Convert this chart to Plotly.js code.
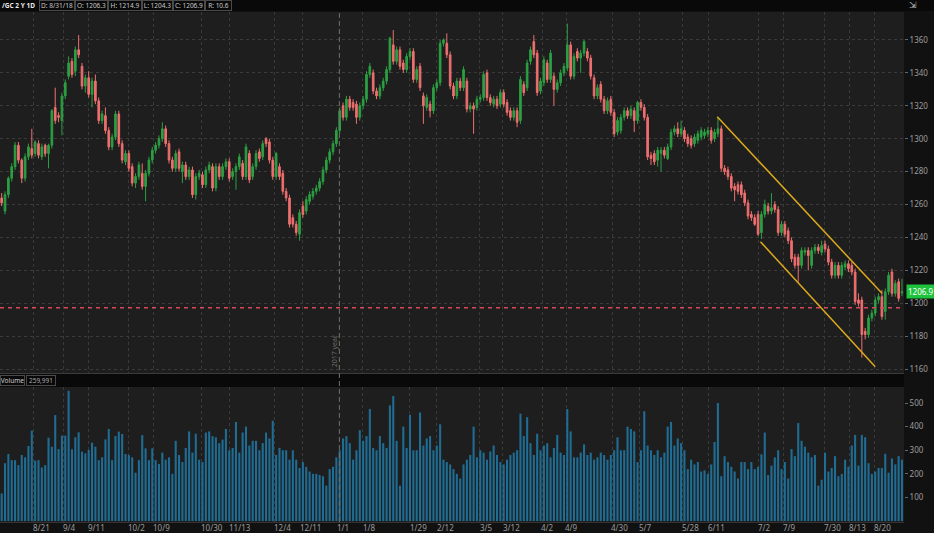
<!DOCTYPE html>
<html>
<head>
<meta charset="utf-8">
<script src="https://cdn.plot.ly/plotly-3.0.1.min.js"></script>
<style>html,body{margin:0;padding:0;background:#111111;}#chart{width:934px;height:533px;}</style>
</head>
<body>
<div id="chart"></div>
<script>
// ---- Daily OHLC (/GC, bar index 0..269) ----
const open = [1264,1256,1266,1276,1283,1296,1287,1276,1289,1294,1291,1297,1289,1296,1291,1296,1319,1314,1311,1326,
1338,1347,1341,1354,1344,1332,1337,1327,1335,1323,1311,1314,1305,1295,1301,1315,1297,1286,1291,1283,
1273,1277,1279,1271,1279,1287,1293,1296,1300,1306,1297,1287,1282,1292,1280,1284,1277,1281,1266,1277,
1278,1272,1281,1283,1270,1283,1277,1283,1286,1277,1280,1283,1285,1277,1291,1277,1283,1292,1289,1300,
1298,1287,1277,1283,1279,1268,1264,1252,1248,1242,1259,1256,1262,1265,1268,1270,1274,1281,1287,1292,
1297,1305,1320,1313,1324,1322,1321,1313,1320,1324,1339,1340,1329,1326,1331,1335,1342,1357,1347,1354,
1346,1342,1350,1353,1336,1344,1326,1319,1321,1317,1331,1334,1358,1358,1351,1332,1326,1335,1331,1335,
1318,1320,1319,1324,1325,1340,1325,1321,1324,1321,1328,1322,1317,1313,1317,1311,1333,1331,1347,1359,
1352,1329,1334,1346,1336,1338,1330,1334,1340,1343,1357,1338,1353,1349,1352,1353,1349,1337,1326,1333,
1324,1317,1324,1316,1304,1305,1313,1317,1314,1317,1311,1322,1319,1313,1290,1291,1287,1291,1293,1288,
1295,1304,1306,1303,1305,1301,1300,1297,1299,1301,1302,1303,1305,1300,1303,1306,1282,1281,1277,1271,
1272,1272,1267,1261,1254,1252,1254,1243,1254,1259,1256,1260,1257,1243,1248,1244,1238,1228,1228,1223,
1231,1232,1223,1232,1234,1231,1236,1233,1225,1217,1223,1217,1222,1224,1223,1219,1202,1202,1183,1181,
1191,1194,1202,1204,1195,1207,1219,1206,1213,1206.3];
const high = [1267,1268,1277,1285,1298,1298,1288,1291,1297,1306,1299,1299,1297,1297,1297,1318,1331,1316,1328,1336,
1350,1349,1356,1363,1346,1339,1341,1337,1339,1325,1317,1319,1307,1303,1317,1317,1299,1293,1293,1285,
1279,1286,1285,1281,1289,1295,1298,1302,1310,1308,1299,1289,1293,1294,1286,1286,1283,1283,1279,1281,
1280,1283,1286,1285,1285,1285,1285,1288,1288,1282,1285,1291,1287,1297,1293,1285,1293,1294,1299,1301,
1300,1289,1292,1285,1281,1270,1266,1254,1250,1257,1262,1265,1268,1270,1272,1276,1283,1289,1294,1299,
1307,1319,1322,1326,1326,1324,1323,1322,1326,1341,1346,1342,1331,1333,1337,1344,1362,1366,1356,1356,
1348,1352,1355,1355,1344,1346,1328,1327,1323,1333,1336,1360,1361,1364,1353,1334,1337,1337,1344,1337,
1322,1322,1326,1327,1341,1342,1327,1326,1326,1330,1330,1324,1319,1319,1319,1338,1335,1348,1356,1363,
1354,1337,1350,1348,1354,1340,1336,1342,1346,1370,1359,1352,1355,1354,1360,1355,1351,1339,1333,1335,
1326,1325,1326,1318,1313,1315,1319,1319,1320,1319,1323,1324,1321,1315,1292,1293,1295,1295,1295,1297,
1306,1308,1310,1311,1307,1303,1302,1303,1305,1307,1306,1307,1307,1306,1313,1308,1284,1283,1279,1273,
1274,1274,1269,1263,1256,1254,1256,1256,1263,1261,1267,1262,1259,1250,1250,1246,1240,1230,1230,1234,
1234,1234,1234,1236,1236,1238,1238,1235,1227,1225,1225,1225,1226,1226,1225,1221,1206,1204,1185,1193,
1196,1204,1206,1208,1209,1219,1221,1214,1215,1214.9];
const low = [1259,1254,1264,1274,1281,1285,1273,1274,1287,1288,1289,1288,1287,1289,1282,1294,1309,1310,1302,1324,
1336,1337,1338,1349,1330,1328,1325,1319,1321,1309,1309,1303,1293,1293,1299,1295,1285,1284,1280,1271,
1270,1275,1269,1262,1277,1285,1291,1294,1298,1295,1285,1280,1280,1280,1273,1275,1275,1264,1263,1275,
1270,1270,1279,1268,1268,1275,1275,1281,1274,1275,1269,1281,1275,1275,1273,1275,1281,1286,1287,1295,
1285,1275,1275,1275,1266,1262,1246,1246,1241,1238,1252,1254,1260,1263,1266,1268,1272,1279,1285,1290,
1295,1303,1311,1311,1317,1317,1309,1311,1318,1322,1337,1327,1324,1324,1329,1333,1340,1345,1345,1342,
1340,1340,1348,1334,1334,1329,1309,1317,1313,1315,1329,1332,1356,1349,1330,1324,1324,1329,1329,1316,
1316,1303,1317,1322,1323,1323,1320,1319,1318,1319,1319,1314,1311,1311,1307,1309,1326,1329,1345,1349,
1326,1327,1332,1334,1334,1320,1328,1332,1338,1341,1336,1336,1347,1340,1350,1347,1336,1324,1324,1322,
1315,1315,1314,1301,1302,1303,1311,1312,1312,1304,1309,1317,1311,1287,1284,1284,1283,1280,1288,1287,
1293,1302,1301,1301,1298,1295,1294,1295,1297,1299,1300,1301,1297,1298,1301,1280,1278,1275,1268,1262,
1266,1264,1259,1251,1250,1247,1241,1239,1252,1254,1254,1255,1241,1241,1240,1236,1225,1221,1213,1221,
1229,1220,1221,1230,1230,1229,1231,1223,1215,1215,1215,1215,1220,1219,1217,1199,1198,1167,1178,1179,
1189,1192,1200,1190,1190,1205,1204,1204,1201,1204.3];
const close = [1261,1266,1276,1283,1296,1287,1276,1289,1295,1290,1298,1290,1295,1291,1296,1317,1311,1313,1326,1334,
1346,1339,1354,1351,1332,1337,1327,1335,1323,1311,1315,1305,1295,1301,1315,1297,1287,1291,1282,1273,
1277,1284,1271,1279,1287,1293,1296,1300,1306,1297,1287,1282,1291,1282,1284,1277,1281,1266,1277,1279,
1272,1281,1284,1270,1283,1277,1283,1286,1276,1280,1283,1289,1277,1295,1275,1283,1291,1288,1297,1297,
1287,1277,1291,1277,1268,1264,1248,1248,1243,1255,1254,1263,1266,1268,1270,1274,1281,1287,1292,1297,
1305,1317,1313,1324,1319,1319,1313,1320,1324,1339,1344,1329,1326,1331,1335,1342,1361,1347,1354,1344,
1342,1350,1353,1336,1342,1331,1320,1325,1317,1331,1334,1358,1360,1351,1332,1326,1335,1331,1342,1318,
1320,1318,1324,1325,1339,1325,1322,1324,1320,1328,1321,1316,1313,1317,1310,1336,1328,1346,1354,1351,
1328,1335,1348,1336,1352,1330,1334,1340,1344,1357,1338,1350,1349,1352,1359,1349,1338,1326,1331,1324,
1317,1323,1316,1303,1311,1313,1317,1314,1318,1311,1322,1319,1313,1289,1288,1286,1293,1293,1290,1295,
1304,1306,1303,1306,1300,1297,1296,1301,1303,1305,1304,1305,1299,1304,1306,1282,1280,1277,1270,1269,
1268,1266,1261,1253,1252,1248,1242,1254,1260,1256,1258,1257,1243,1248,1242,1238,1227,1223,1223,1232,
1232,1229,1232,1234,1232,1235,1233,1225,1217,1223,1217,1223,1224,1221,1219,1201,1200,1181,1181,1191,
1194,1202,1204,1192,1207,1217,1206,1212,1203,1206.9];
// ---- Daily volume, thousands of contracts ----
const volume = [117,245,284,258,258,237,280,270,318,383,256,258,227,237,353,315,449,305,362,362,
552,304,355,376,294,287,301,332,315,258,270,346,390,258,360,379,369,284,280,270,
205,258,364,308,258,308,258,242,290,260,270,200,340,280,250,310,380,290,370,260,
250,375,380,360,355,330,345,390,300,310,420,290,375,400,320,340,340,300,330,375,
350,425,280,310,300,300,260,300,260,225,250,230,210,200,200,195,190,150,220,230,
270,300,350,360,330,260,300,385,340,360,475,310,300,360,330,310,490,530,340,150,
400,310,450,300,300,460,320,350,360,300,320,410,260,250,240,220,200,180,240,260,
280,400,270,300,290,260,295,320,280,250,240,260,280,290,300,455,360,440,330,280,
370,300,320,330,270,310,365,290,280,475,380,270,270,290,325,280,290,260,270,290,
280,260,280,300,355,300,300,400,390,380,250,300,465,320,300,280,300,270,290,400,
420,320,350,330,300,220,260,240,250,210,215,200,240,335,500,190,275,250,230,210,
180,250,250,220,250,220,230,283,375,195,235,270,300,220,250,180,305,275,415,340,
315,290,270,280,150,175,290,210,225,275,190,200,260,230,320,365,235,365,355,245,
200,210,225,225,285,205,265,240,275,260];
// ---- Date axis (positions in bar units) ----
const dateLabels = ["8/21","9/4","9/11","10/2","10/9","10/30","11/13","12/4","12/11","1/1","1/8","1/29","2/12","3/5","3/12","4/2","4/9","4/30","5/7","5/28","6/11","7/2","7/9","7/30","8/13","8/20"];
const labelPos = [12.0,20.4,28.4,40.4,47.8,62.7,71.1,83.9,92.3,102.1,109.9,124.5,132.6,144.8,152.2,163.0,170.4,184.5,192.5,205.9,213.7,228.0,235.5,248.3,255.8,263.2];
const gridPos = [9.6,18.6,26.0,38.0,45.4,59.7,68.1,81.5,89.9,107.8,121.8,129.9,142.7,149.6,161.5,168.7,182.4,190.7,203.5,211.3,226.2,233.7,245.9,253.4,260.8];
const yearLinePos = 100.9;
const priceTicks = [1160,1180,1200,1220,1240,1260,1280,1300,1320,1340,1360];
const volTicks = [100,200,300,400,500];
// ---- Drawings ----
const channelUpper = {x:[213.8,263.0], y:[1313.4,1206.0]};
const channelLower = {x:[226.7,261.0], y:[1237.4,1161.4]};
const supportLevel = 1197.3;
const headerItems = ["D: 8/31/18","O: 1206.3","H: 1214.9","L: 1204.3","C: 1206.9","R: 10.6"];
const lastPrice = 1206.9;
const volumeTotal = "259,991";

const idx = close.map((_, i) => i);
const W = 934, H = 533;
const RIGHT = 904;
const px = v => v / W;
const py = v => 1 - v / H;
const xr = [-0.5, 269.6];
const font = "Noto Sans, Open Sans, sans-serif";
const axisFont = {family: font, size: 8, color: "#9c9c9c"};

const traces = [
  {type: "candlestick", x: idx, open: open, high: high, low: low, close: close,
   xaxis: "x", yaxis: "y", hoverinfo: "skip",
   increasing: {line: {color: "#2ba043", width: 1}, fillcolor: "#2ba043"},
   decreasing: {line: {color: "#ef6f6f", width: 1}, fillcolor: "#ef6f6f"}},
  {type: "bar", x: idx, y: volume, xaxis: "x2", yaxis: "y2", hoverinfo: "skip",
   marker: {color: "#1f6d94", line: {width: 0}}}
];

const shapes = [
  {type: "rect", xref: "paper", yref: "paper", x0: 0, x1: 1, y0: py(11), y1: 1, fillcolor: "#090909", line: {width: 0}, layer: "below"},
  {type: "rect", xref: "paper", yref: "paper", x0: 0, x1: px(RIGHT), y0: py(387), y1: py(374), fillcolor: "#090909", line: {width: 0}},
  {type: "line", xref: "x", yref: "paper", x0: yearLinePos, x1: yearLinePos, y0: py(522), y1: py(12), line: {color: "#707070", width: 1, dash: "5px,3px"}},
  {type: "line", xref: "paper", yref: "y", x0: 0, x1: px(RIGHT), y0: supportLevel, y1: supportLevel, line: {color: "#d8485c", width: 1.6, dash: "4px,4px"}},
  {type: "line", xref: "x", yref: "y", x0: channelUpper.x[0], x1: channelUpper.x[1], y0: channelUpper.y[0], y1: channelUpper.y[1], line: {color: "#dcaa1c", width: 1.5}},
  {type: "line", xref: "x", yref: "y", x0: channelLower.x[0], x1: channelLower.x[1], y0: channelLower.y[0], y1: channelLower.y[1], line: {color: "#dcaa1c", width: 1.5}}
];

const annotations = [];
annotations.push({xref: "paper", yref: "paper", x: px(0), y: py(5.5), xanchor: "left", yanchor: "middle",
  text: "<b>/GC 2 Y 1D</b>", showarrow: false, font: {family: font, size: 6.5, color: "#e8e8e8"}});
const boxStarts = [39, 75, 108, 142, 173, 205];
const boxWidths = [34, 31, 32, 29, 30, 25];
headerItems.forEach((t, i) => annotations.push({xref: "paper", yref: "paper", x: px(boxStarts[i]), y: py(5.5),
  xanchor: "left", yanchor: "middle", text: t, showarrow: false, width: boxWidths[i], height: 9, align: "center",
  bordercolor: "#4a4a4a", borderwidth: 1, borderpad: 0, font: {family: font, size: 6.5, color: "#c8c8c8"}}));
annotations.push({xref: "paper", yref: "paper", x: px(0), y: py(380.5), xanchor: "left", yanchor: "middle",
  text: "Volume", showarrow: false, width: 23, height: 9, bordercolor: "#4a4a4a", borderwidth: 1, borderpad: 0,
  font: {family: font, size: 6.5, color: "#d0d0d0"}});
annotations.push({xref: "paper", yref: "paper", x: px(26), y: py(380.5), xanchor: "left", yanchor: "middle",
  text: volumeTotal, showarrow: false, width: 28, height: 9, bordercolor: "#4a4a4a", borderwidth: 1, borderpad: 0,
  font: {family: font, size: 6.5, color: "#a8a8a8"}});
dateLabels.forEach((t, i) => annotations.push({xref: "x2", yref: "paper", x: labelPos[i], y: py(527), xanchor: "center", yanchor: "middle",
  text: t, showarrow: false, font: axisFont}));
annotations.push({xref: "paper", yref: "y", x: px(906), y: lastPrice, xanchor: "left", yanchor: "middle",
  text: String(lastPrice), showarrow: false, bgcolor: "#1fc23d", borderpad: 1, font: {family: font, size: 8, color: "#ffffff"}});
annotations.push({xref: "x", yref: "y", x: yearLinePos - 1.2, y: 1171, textangle: -90, text: "2017 year", showarrow: false,
  font: {family: font, size: 7, color: "#6c6c6c"}});
annotations.push({xref: "paper", yref: "paper", x: px(913), y: py(5.5), xanchor: "center", yanchor: "middle",
  text: "⇲", showarrow: false, font: {family: "DejaVu Sans", size: 9, color: "#bbbbbb"}});

const layout = {
  width: W, height: H, margin: {l: 0, r: 0, t: 0, b: 0},
  paper_bgcolor: "#111111", plot_bgcolor: "#1e1e1e",
  showlegend: false, bargap: 0.38, boxgap: 0.3,
  xaxis: {domain: [0, px(RIGHT)], anchor: "y", range: xr, tickvals: gridPos, showticklabels: false,
    showgrid: true, gridcolor: "#3a3a3a", griddash: "dot", gridwidth: 1, zeroline: false,
    showline: true, linecolor: "#3a3a3a", linewidth: 2, mirror: false, ticks: "",
    rangeslider: {visible: false}, fixedrange: true},
  yaxis: {domain: [py(373), py(12)], anchor: "x", side: "right", range: [1157.6, 1377],
    tickvals: priceTicks, ticks: "outside", ticklen: 3, tickcolor: "#666666", tickfont: axisFont,
    showgrid: true, gridcolor: "#3a3a3a", griddash: "dot", zeroline: false, fixedrange: true},
  xaxis2: {domain: [0, px(RIGHT)], anchor: "y2", range: xr, tickvals: gridPos, showticklabels: false,
    showgrid: true, gridcolor: "#3a3a3a", griddash: "dot", zeroline: false,
    showline: true, linecolor: "#333333", ticks: "", fixedrange: true},
  yaxis2: {domain: [py(522), py(387)], anchor: "x2", side: "right", range: [-4, 568],
    tickvals: volTicks, ticks: "outside", ticklen: 3, tickcolor: "#666666", tickfont: axisFont,
    showgrid: false, zeroline: false, fixedrange: true},
  shapes: shapes, annotations: annotations
};

Plotly.newPlot("chart", traces, layout, {displayModeBar: false, staticPlot: true});
</script>
</body>
</html>
